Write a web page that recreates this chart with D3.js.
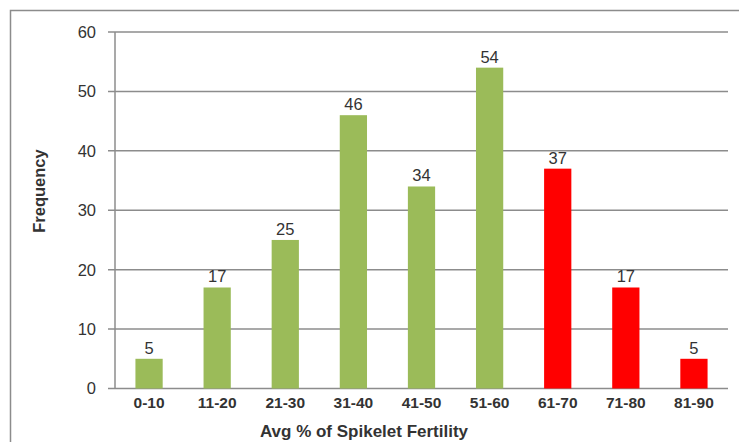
<!DOCTYPE html>
<html>
<head>
<meta charset="utf-8">
<script src="https://cdn.jsdelivr.net/npm/d3@7"></script>
<style>
  html, body { margin: 0; padding: 0; background: #fff; }
  svg { display: block; }
  text { font-family: "Liberation Sans", Arial, sans-serif; fill: #333; }
</style>
</head>
<body>
<svg id="chart" width="739" height="442"></svg>
<script>
// Frequency distribution of average spikelet fertility
const categories = ["0-10", "11-20", "21-30", "31-40", "41-50", "51-60", "61-70", "71-80", "81-90"];
const frequency  = [5, 17, 25, 46, 34, 54, 37, 17, 5];
const barColors  = ["#9bbb59", "#9bbb59", "#9bbb59", "#9bbb59", "#9bbb59", "#9bbb59", "#ff0000", "#ff0000", "#ff0000"];
const yTicks     = [0, 10, 20, 30, 40, 50, 60];

const svg = d3.select("#chart");
const W = 739, H = 442;
const plot = { left: 115, right: 728, top: 32, bottom: 388.5 };

// chart area frame
svg.append("rect")
  .attr("x", 10.5).attr("y", 10.5)
  .attr("width", W + 20).attr("height", H + 20)
  .attr("fill", "#fff").attr("stroke", "#8c8c8c").attr("stroke-width", 1.5);

const x = d3.scaleBand().domain(categories).range([plot.left, plot.right]).paddingInner(0.6).paddingOuter(0.3);
const y = d3.scaleLinear().domain([0, 60]).range([plot.bottom, plot.top]);

// horizontal gridlines + left tick marks
svg.append("g").selectAll("line").data(yTicks).join("line")
  .attr("x1", plot.left - 7).attr("x2", plot.right)
  .attr("y1", d => y(d)).attr("y2", d => y(d))
  .attr("stroke", "#8c8c8c").attr("stroke-width", 1.5);

// value axis line
svg.append("line")
  .attr("x1", plot.left).attr("x2", plot.left)
  .attr("y1", plot.top).attr("y2", plot.bottom)
  .attr("stroke", "#8c8c8c").attr("stroke-width", 1.5);

// y tick labels
svg.append("g").selectAll("text").data(yTicks).join("text")
  .attr("x", 96).attr("y", d => y(d))
  .attr("dy", "0.36em")
  .attr("text-anchor", "end")
  .style("font-size", "16.5px")
  .text(d => d);

// bars
svg.append("g").selectAll("rect").data(frequency).join("rect")
  .attr("x", (d, i) => x(categories[i]))
  .attr("width", x.bandwidth())
  .attr("y", d => y(d))
  .attr("height", d => y(0) - y(d))
  .attr("fill", (d, i) => barColors[i]);

// value labels
svg.append("g").selectAll("text").data(frequency).join("text")
  .attr("x", (d, i) => x(categories[i]) + x.bandwidth() / 2)
  .attr("y", d => y(d) - 5)
  .attr("text-anchor", "middle")
  .style("font-size", "16.5px")
  .text(d => d);

// category labels
svg.append("g").selectAll("text").data(categories).join("text")
  .attr("x", d => x(d) + x.bandwidth() / 2)
  .attr("y", 402)
  .attr("dy", "0.36em")
  .attr("text-anchor", "middle")
  .style("font-size", "15.5px")
  .style("font-weight", "bold")
  .text(d => d);

// axis titles
svg.append("text")
  .attr("x", 364).attr("y", 431)
  .attr("dy", "0.36em")
  .attr("text-anchor", "middle")
  .style("font-size", "17px")
  .style("font-weight", "bold")
  .text("Avg % of Spikelet Fertility");

svg.append("text")
  .attr("transform", "translate(39,191) rotate(-90)")
  .attr("dy", "0.36em")
  .attr("text-anchor", "middle")
  .style("font-size", "16.5px")
  .style("font-weight", "bold")
  .text("Frequency");
</script>
</body>
</html>
